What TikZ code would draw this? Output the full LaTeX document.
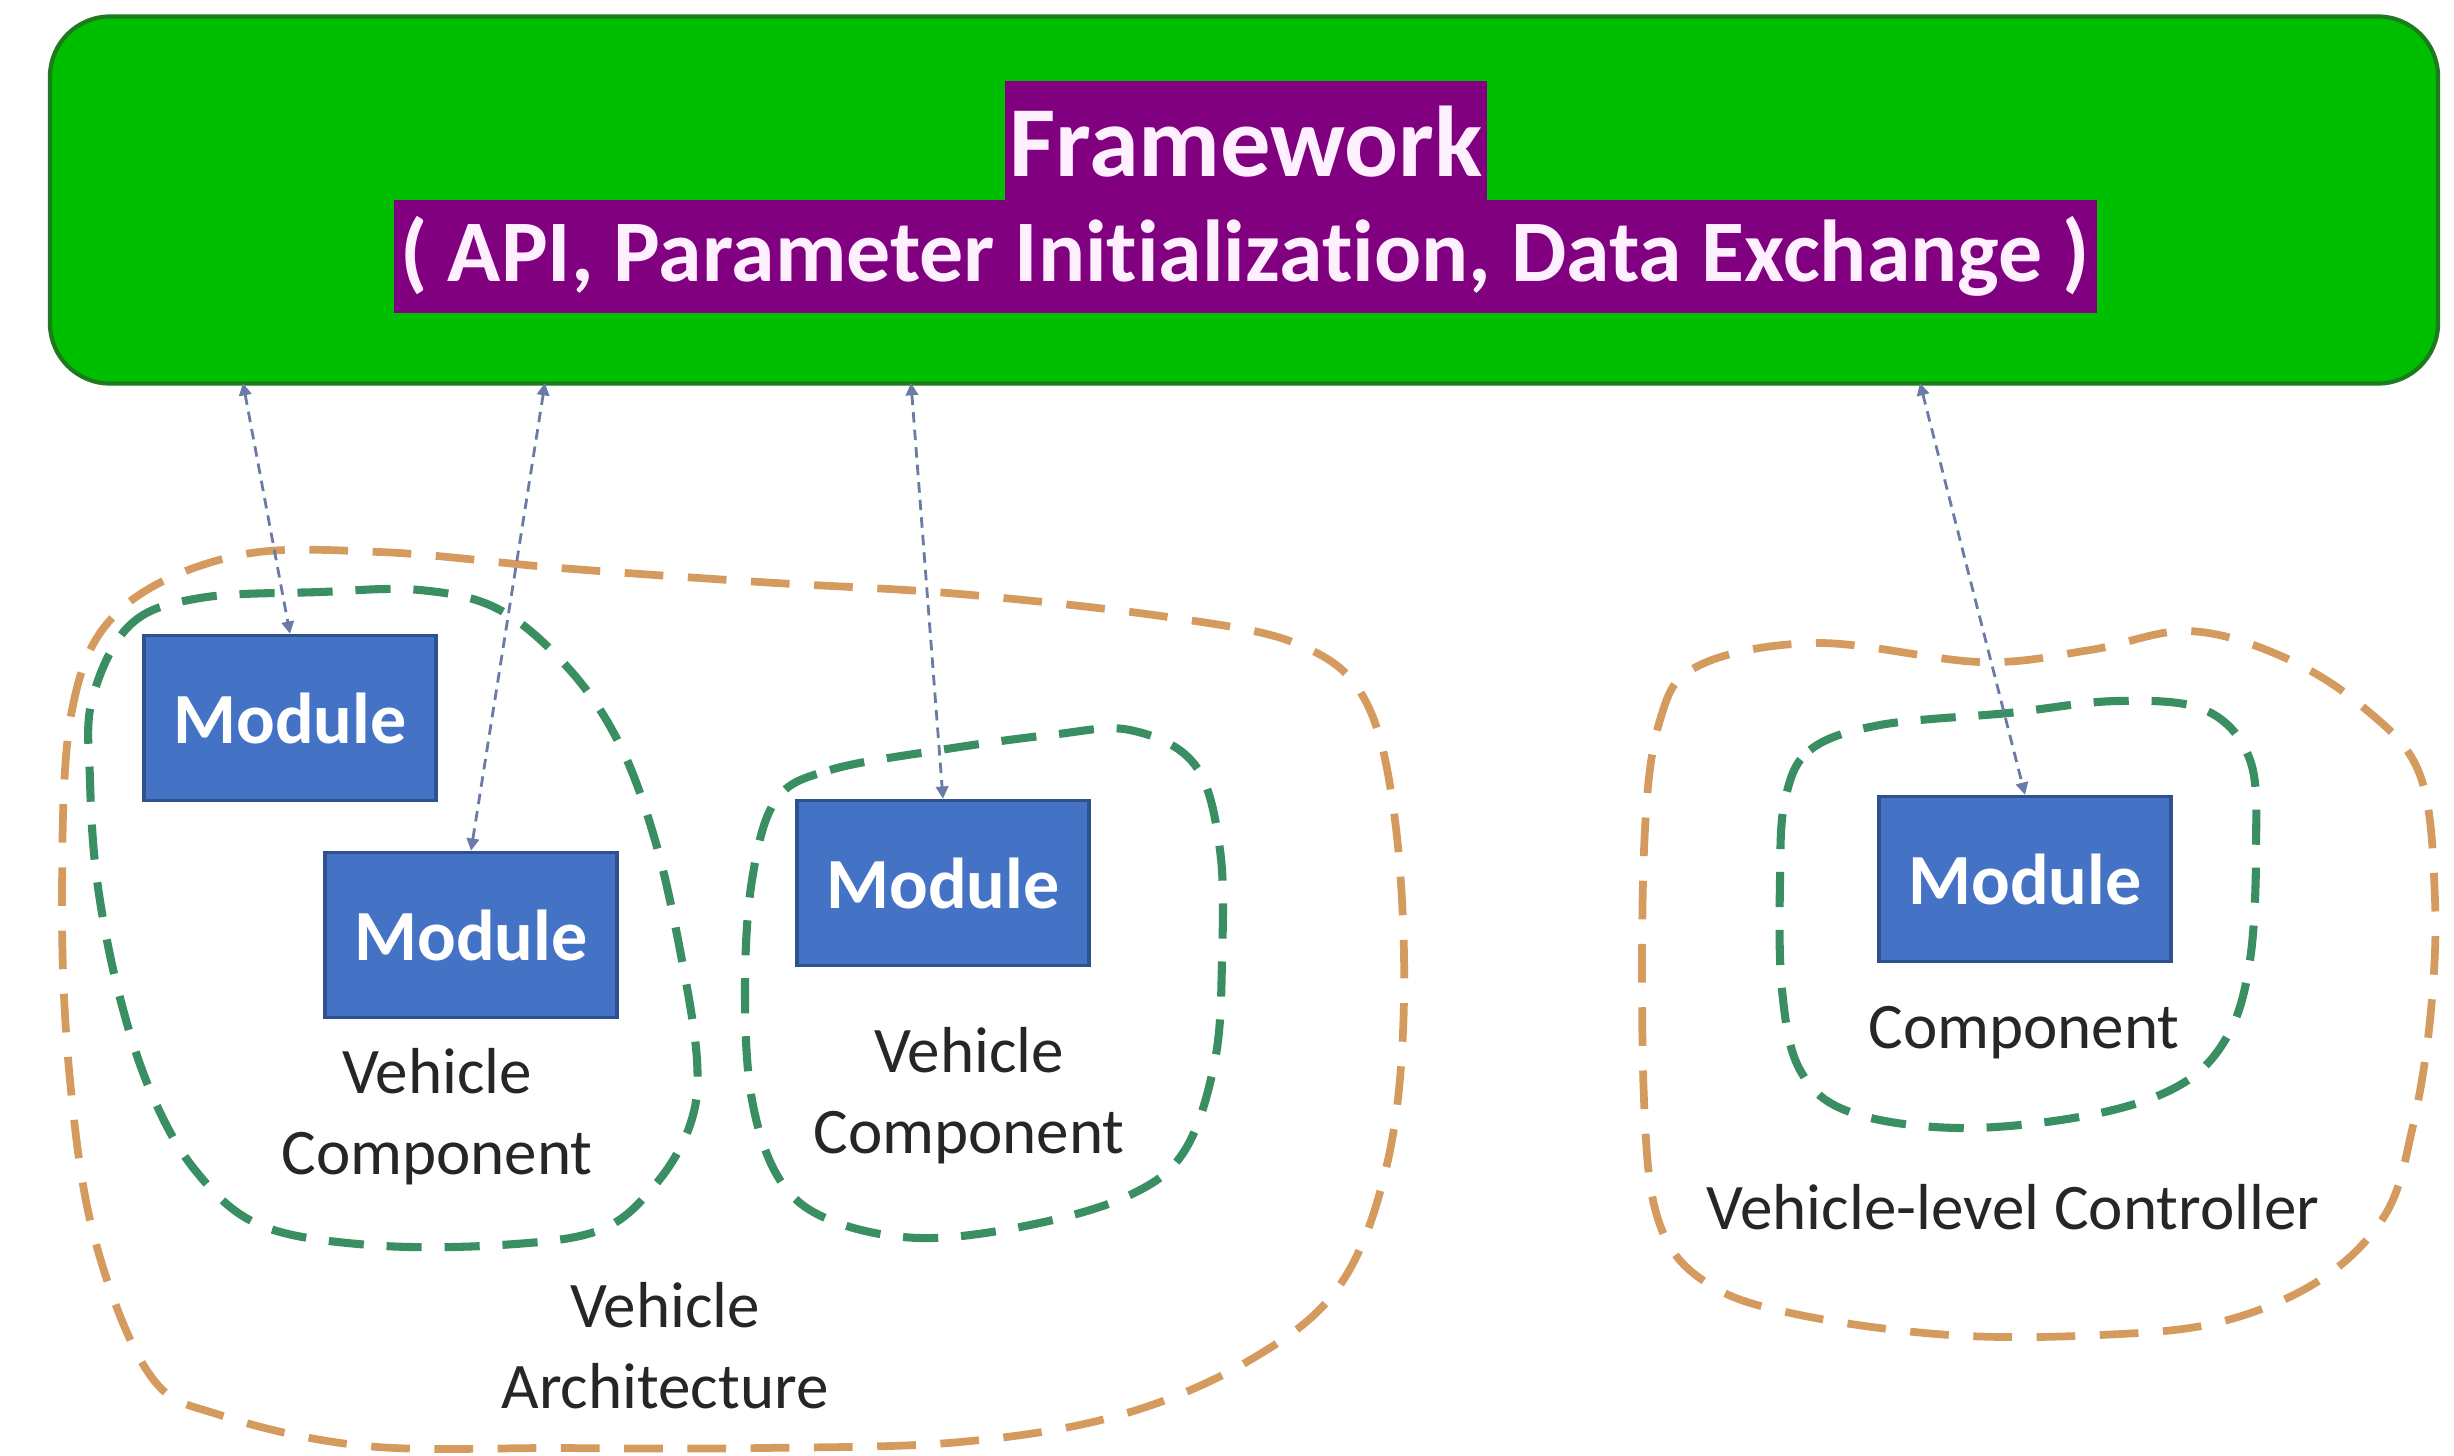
\documentclass[tikz,border=0pt]{standalone}
\usepackage{fontspec}
\setmainfont{Carlito}[Ligatures=CommonOff]
\usepackage{xcolor}
\usepackage{tikz}
\usetikzlibrary{arrows.meta}
\definecolor{frameGreen}{HTML}{00BF00}
\definecolor{frameEdge}{HTML}{1D7A1D}
\definecolor{hlPurple}{HTML}{800080}
\definecolor{hlText}{HTML}{FFF0FF}
\definecolor{moduleBlue}{HTML}{4472C4}
\definecolor{moduleEdge}{HTML}{2F528F}
\definecolor{archOrange}{HTML}{D59A5E}
\definecolor{compGreen}{HTML}{3A8F62}
\definecolor{linkBlue}{HTML}{6A7BA6}

\begin{document}
\begin{tikzpicture}[x=0.1mm, y=-0.1mm,
    framebox/.style={draw=frameEdge, fill=frameGreen, line width=1.2pt, rounded corners=0.6cm,
        minimum width=23.88cm, minimum height=3.67cm},
    hl/.style={fill=hlPurple, text=hlText, inner xsep=0pt, inner ysep=0pt},
    module/.style={draw=moduleEdge, fill=moduleBlue, line width=1pt, minimum width=2.92cm,
        minimum height=1.65cm, text=white, font=\fontsize{20.5}{24}\selectfont\bfseries},
    lbl/.style={align=center, text=black!85, font=\fontsize{18.5}{23}\selectfont},
    archline/.style={archOrange, line width=2.2pt, dash pattern=on 11pt off 7pt},
    compline/.style={compGreen, line width=2.3pt, dash pattern=on 10pt off 6.5pt},
    link/.style={linkBlue, line width=0.8pt, densely dashed,
        {Triangle[length=3.5pt,width=3.5pt]}-{Triangle[length=3.5pt,width=3.5pt]}}]
    \useasboundingbox[fill=white] (0,0) rectangle (2454,1455);

    % framework bar
    \node[framebox] (frame) at (1244,200) {};
    \node[hl, minimum width=17.03cm, minimum height=1.13cm,
        font=\fontsize{25}{28}\selectfont\bfseries] (fwsub) at (1245,256)
        {( API, Parameter Initialization, Data Exchange )};
    \node[hl, minimum width=4.82cm, minimum height=1.23cm,
        font=\fontsize{28.6}{32}\selectfont\bfseries] (fw) at (1246,142) {Framework};

    % groups
    \draw[archline] plot[smooth cycle, tension=0.6] coordinates {
        (62,900) (72,710) (120,610) (235,556) (380,552) (560,568) (760,582) (960,594)
        (1175,618) (1300,645) (1365,700) (1395,820) (1404,1000) (1388,1160) (1340,1285)
        (1250,1360) (1120,1415) (960,1442) (760,1448) (560,1448) (366,1446) (220,1415)
        (150,1375) (95,1240) (70,1080)};
    \draw[compline] plot[smooth cycle, tension=0.6] coordinates {
        (92,700) (130,625) (200,598) (320,592) (420,590) (500,610) (570,670) (620,745)
        (655,840) (680,950) (697,1060) (690,1125) (655,1185) (600,1230) (500,1245)
        (370,1245) (260,1225) (195,1170) (150,1090) (118,990) (97,880) (90,780)};
    \draw[compline] plot[smooth cycle, tension=0.6] coordinates {
        (776,800) (830,770) (940,750) (1050,735) (1130,730) (1195,765) (1220,850)
        (1222,960) (1215,1060) (1185,1150) (1130,1195) (1030,1225) (920,1238)
        (830,1220) (780,1180) (752,1100) (745,990) (752,880)};
    \draw[archline] plot[smooth cycle, tension=0.6] coordinates {
        (1644,850) (1660,720) (1700,665) (1818,643) (1981,662) (2090,650) (2188,631)
        (2281,656) (2363,707) (2420,775) (2435,900) (2430,1020) (2412,1130) (2385,1215)
        (2320,1280) (2220,1322) (2100,1335) (1950,1335) (1800,1315) (1710,1285)
        (1660,1225) (1644,1100)};
    \draw[compline] plot[smooth cycle, tension=0.6] coordinates {
        (1785,800) (1810,750) (1880,725) (2008,713) (2117,701) (2205,710) (2250,760)
        (2256,850) (2250,960) (2228,1035) (2180,1085) (2090,1115) (1960,1128)
        (1850,1112) (1800,1070) (1782,990) (1780,880)};

    % modules
    \node[module] (mod1) at (290,718) {Module};
    \node[module] (mod2) at (471,935) {Module};
    \node[module] (mod3) at (943,883) {Module};
    \node[module] (mod4) at (2025,879) {Module};

    % labels
    \node[lbl] (vc1) at (437,1117) {Vehicle\\Component};
    \node[lbl] (vc2) at (969,1096) {Vehicle\\Component};
    \node[lbl] (comp) at (2024,1033) {Component};
    \node[lbl] (vlc) at (2013,1207) {Vehicle-level Controller};
    \node[lbl] (va) at (665,1346) {Vehicle\\Architecture};

    % links to the framework
    \coordinate (top1) at (243,383);
    \coordinate (top2) at (545,383);
    \coordinate (top3) at (911,383);
    \coordinate (top4) at (1920,383);
    \draw[link] (top1) -- (mod1.north);
    \draw[link] (top2) -- (mod2.north);
    \draw[link] (top3) -- (mod3.north);
    \draw[link] (top4) -- (mod4.north);
\end{tikzpicture}
\end{document}
